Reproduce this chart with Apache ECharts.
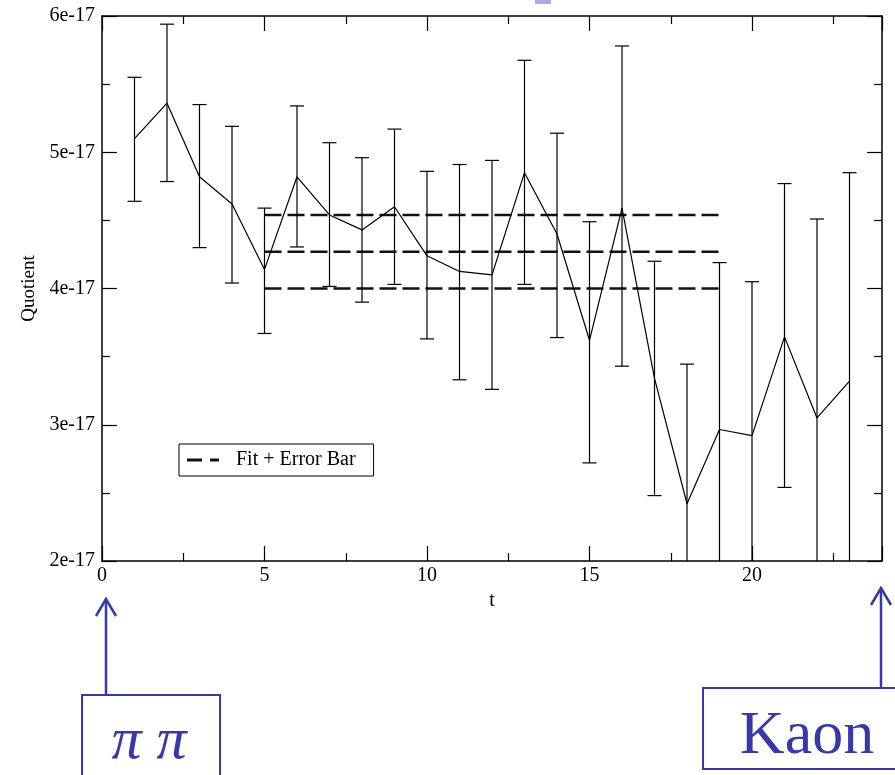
<!DOCTYPE html>
<html>
<head>
<meta charset="utf-8">
<script src="https://cdn.jsdelivr.net/npm/echarts@6/dist/echarts.min.js"></script>
<style>
  html, body { margin: 0; padding: 0; background: #fff; }
  #chart { width: 895px; height: 775px; }
</style>
</head>
<body>
<div id="chart"></div>
<script>
// values are in units of 1e-17
const tValues = [1, 2, 3, 4, 5, 6, 7, 8, 9, 10, 11, 12, 13, 14, 15, 16, 17, 18, 19, 20, 21, 22, 23];
const quotient = [5.10, 5.36, 4.82, 4.62, 4.14, 4.82, 4.54, 4.43, 4.60, 4.24, 4.125, 4.10,
  4.85, 4.40, 3.62, 4.59, 3.34, 2.42, 2.965, 2.92, 3.645, 3.05, 3.32];
const errUpper = [5.55, 5.94, 5.35, 5.19, 4.59, 5.34, 5.07, 4.96, 5.17, 4.86, 4.91, 4.94,
  5.675, 5.14, 4.49, 5.78, 4.20, 3.445, 4.19, 4.05, 4.77, 4.51, 4.85];
const errLower = [4.64, 4.785, 4.30, 4.04, 3.67, 4.305, 4.015, 3.90, 4.03, 3.63, 3.33, 3.26,
  4.03, 3.64, 2.72, 3.43, 2.48, 1.40, 1.74, 1.79, 2.54, 1.59, 1.79];
const fitLevels = [4.54, 4.27, 4.00];
const fitRange = [5, 19];
const yTickLabels = ['2e-17', '3e-17', '4e-17', '5e-17', '6e-17'];

const serif = "'Liberation Serif', 'Times New Roman', serif";
const blue = '#3838a8';

const chart = echarts.init(document.getElementById('chart'));

const lineData = tValues.map((t, i) => [t, quotient[i]]);
const errData = tValues.map((t, i) => [t, errLower[i], errUpper[i]]);

const axisCommon = {
  type: 'value',
  axisLine: { onZero: false, lineStyle: { color: '#000', width: 1.5 } },
  axisTick: { inside: true, length: 15, lineStyle: { color: '#000', width: 1.2 } },
  minorTick: { show: true, splitNumber: 2, length: 8, lineStyle: { color: '#000', width: 1.2 } },
  splitLine: { show: false },
};

const fitSeries = fitLevels.map((level) => ({
  name: 'Fit + Error Bar',
  type: 'line',
  data: [[fitRange[0], level], [fitRange[1], level]],
  symbol: 'none',
  silent: true,
  z: 1,
  lineStyle: { color: '#111', width: 2.5, type: [17, 6] },
  itemStyle: { color: '#111' },
}));

const option = {
  animation: false,
  grid: { left: 102, right: 13, top: 16, bottom: 214 },
  legend: {
    data: [{ name: 'Fit + Error Bar', icon: 'path://M0,0h15v3h-15z M23,0h9v3h-9z' }],
    left: 179,
    top: 444,
    padding: [6, 18, 6, 8],
    borderColor: '#000',
    borderWidth: 1,
    itemWidth: 32,
    itemHeight: 3,
    itemGap: 10,
    itemStyle: { color: '#111', borderWidth: 0 },
    lineStyle: { width: 0 },
    textStyle: { fontFamily: serif, fontSize: 20, color: '#000', padding: [0, 0, 0, 12] },
  },
  xAxis: [
    Object.assign({}, axisCommon, {
      min: 0, max: 24, interval: 5,
      position: 'bottom',
      name: 't',
      nameLocation: 'middle',
      nameGap: 28,
      nameTextStyle: { fontFamily: serif, fontSize: 20, color: '#000' },
      axisLabel: { fontFamily: serif, fontSize: 20, color: '#000', margin: 5, showMaxLabel: false },
    }),
    Object.assign({}, axisCommon, {
      min: 0, max: 24, interval: 5,
      position: 'top',
      axisLabel: { show: false },
    }),
  ],
  yAxis: [
    Object.assign({}, axisCommon, {
      min: 2, max: 6, interval: 1,
      position: 'left',
      name: 'Quotient',
      nameLocation: 'middle',
      nameGap: 63,
      nameTextStyle: { fontFamily: serif, fontSize: 19, color: '#000' },
      axisLabel: {
        fontFamily: serif, fontSize: 20, color: '#000', margin: 7,
        formatter: (v) => yTickLabels[Math.round(v) - 2],
      },
    }),
    Object.assign({}, axisCommon, {
      min: 2, max: 6, interval: 1,
      position: 'right',
      axisLabel: { show: false },
    }),
  ],
  series: [
    ...fitSeries,
    {
      name: 'errors',
      type: 'custom',
      data: errData,
      clip: true,
      z: 2,
      renderItem(params, api) {
        const x = api.value(0);
        const lo = api.coord([x, api.value(1)]);
        const hi = api.coord([x, api.value(2)]);
        const half = 7;
        const style = { stroke: '#000', lineWidth: 1.2 };
        return {
          type: 'group',
          children: [
            { type: 'line', shape: { x1: hi[0], y1: hi[1], x2: lo[0], y2: lo[1] }, style },
            { type: 'line', shape: { x1: hi[0] - half, y1: hi[1], x2: hi[0] + half, y2: hi[1] }, style },
            { type: 'line', shape: { x1: lo[0] - half, y1: lo[1], x2: lo[0] + half, y2: lo[1] }, style },
          ],
        };
      },
    },
    {
      name: 'Quotient',
      type: 'line',
      data: lineData,
      symbol: 'none',
      z: 3,
      lineStyle: { color: '#000', width: 1.2 },
    },
  ],
  graphic: [
    // slide fragment at the top edge
    { type: 'rect', shape: { x: 535, y: 0, width: 16, height: 4 }, style: { fill: '#aaaae4' } },
    // left annotation
    { type: 'line', shape: { x1: 106, y1: 599, x2: 106, y2: 695 }, style: { stroke: blue, lineWidth: 2.5 } },
    { type: 'polyline', shape: { points: [[96, 616], [106, 599], [116, 616]] }, style: { stroke: blue, lineWidth: 2.5, fill: null } },
    { type: 'rect', shape: { x: 82, y: 695, width: 138, height: 100 }, style: { stroke: blue, lineWidth: 2, fill: null } },
    {
      type: 'text', x: 149, y: 742,
      style: { text: 'π π', fontFamily: serif, fontStyle: 'italic', fontSize: 60, fill: blue, align: 'center', verticalAlign: 'middle' },
    },
    // right annotation
    { type: 'line', shape: { x1: 881, y1: 588, x2: 881, y2: 688 }, style: { stroke: blue, lineWidth: 2.5 } },
    { type: 'polyline', shape: { points: [[871, 605], [881, 588], [891, 605]] }, style: { stroke: blue, lineWidth: 2.5, fill: null } },
    { type: 'rect', shape: { x: 703, y: 688, width: 210, height: 81 }, style: { stroke: blue, lineWidth: 2, fill: null } },
    {
      type: 'text', x: 807, y: 737,
      style: { text: 'Kaon', fontFamily: serif, fontSize: 62, fill: blue, align: 'center', verticalAlign: 'middle' },
    },
  ],
};

chart.setOption(option);
</script>
</body>
</html>
